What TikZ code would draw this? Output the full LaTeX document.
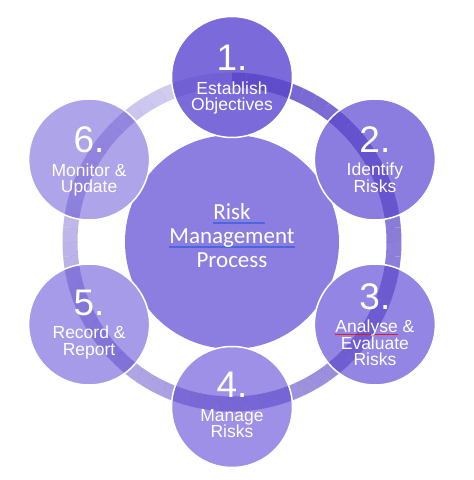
\documentclass[tikz,border=0pt]{standalone}
\usepackage{fontspec}
\setmainfont{Liberation Sans}
\newfontfamily\hubfont{Carlito}
\usepackage{xcolor}
\definecolor{hubpurple}{HTML}{8C7EE0}
\definecolor{stepone}{HTML}{7B6AD9}
\definecolor{steptwo}{HTML}{8B7CE0}
\definecolor{stepthree}{HTML}{9385E3}
\definecolor{stepfour}{HTML}{9D90E6}
\definecolor{stepfive}{HTML}{A69BE8}
\definecolor{stepsix}{HTML}{AEA4EA}
\definecolor{ringpurple}{HTML}{5A46C8}
\definecolor{spellblue}{HTML}{4A66E0}
\definecolor{spellred}{HTML}{E81818}
\usepackage{tikz}

% word with a coloured mark under it
\newcommand{\spellmark}[4]{\setbox0=\hbox{#4}\rlap{\color{#1}\rule[#3]{\dimexpr\wd0+#2\relax}{1.3pt}}\box0\relax}
\newcommand{\stepnum}[1]{{\fontsize{37}{37}\selectfont #1}}

\begin{document}
\begin{tikzpicture}[
    x=1pt, y=1pt,
    hub/.style={circle, fill=hubpurple, minimum size=214pt, inner sep=0pt},
    stepdisc/.style={circle, minimum size=121pt, inner sep=0pt},
    steplabel/.style={align=center, text=white, font=\fontsize{17.5}{16.5}\selectfont},
    hublabel/.style={align=center, text=white, font=\hubfont\fontsize{23}{24}\selectfont},
    ringband/.style={draw=ringpurple, line width=15pt},
    rim/.style={draw=white, line width=1.5pt}
  ]
    \useasboundingbox (-232,-238) rectangle (242,242);

    % Centre
    \node [hub] (hub) at (0,0) {};

    % Six steps round the centre
    \node [stepdisc, fill=stepone] (s1) at (90:165) {};
    \node [stepdisc, fill=steptwo] (s2) at (30:165) {};
    \node [stepdisc, fill=stepthree] (s3) at (-30:165) {};
    \node [stepdisc, fill=stepfour] (s4) at (-90:165) {};
    \node [stepdisc, fill=stepfive] (s5) at (-150:165) {};
    \node [stepdisc, fill=stepsix] (s6) at (150:165) {};

    % Ring, darkest after step 1, fading clockwise
    \foreach \i [evaluate=\i as \op using 0.85-0.6*\i/71,
                 evaluate=\i as \a using 90-5*\i] in {0,...,71}
      \draw [ringband, draw opacity=\op] (\a:162) arc [start angle=\a, end angle=\a-5, radius=162];

    % White rims
    \foreach \s in {s1,s2,s3,s4,s5,s6}
      \draw [rim] (\s.center) circle [radius=60.5];

    % Texts
    \node [hublabel, yshift=6pt] (hubtext) at (hub) {\spellmark{spellblue}{14pt}{-3.6pt}{Risk}\\\spellmark{spellblue}{0pt}{-3.6pt}{Management}\\Process};
    \node [steplabel, yshift=-3pt] (t1) at (s1) {\stepnum{1.}\\[7pt]Establish\\Objectives};
    \node [steplabel] (t2) at (s2) {\stepnum{2.}\\[7pt]Identify\\Risks};
    \node [steplabel] (t3) at (s3) {\stepnum{3.}\\[7pt]\spellmark{spellred}{0pt}{-2.8pt}{Analyse} \&\\Evaluate\\Risks};
    \node [steplabel, yshift=2pt] (t4) at (s4) {\stepnum{4.}\\[7pt]Manage\\Risks};
    \node [steplabel] (t5) at (s5) {\stepnum{5.}\\[7pt]Record \&\\Report};
    \node [steplabel, yshift=-2pt] (t6) at (s6) {\stepnum{6.}\\[7pt]Monitor \&\\Update};
\end{tikzpicture}
\end{document}
